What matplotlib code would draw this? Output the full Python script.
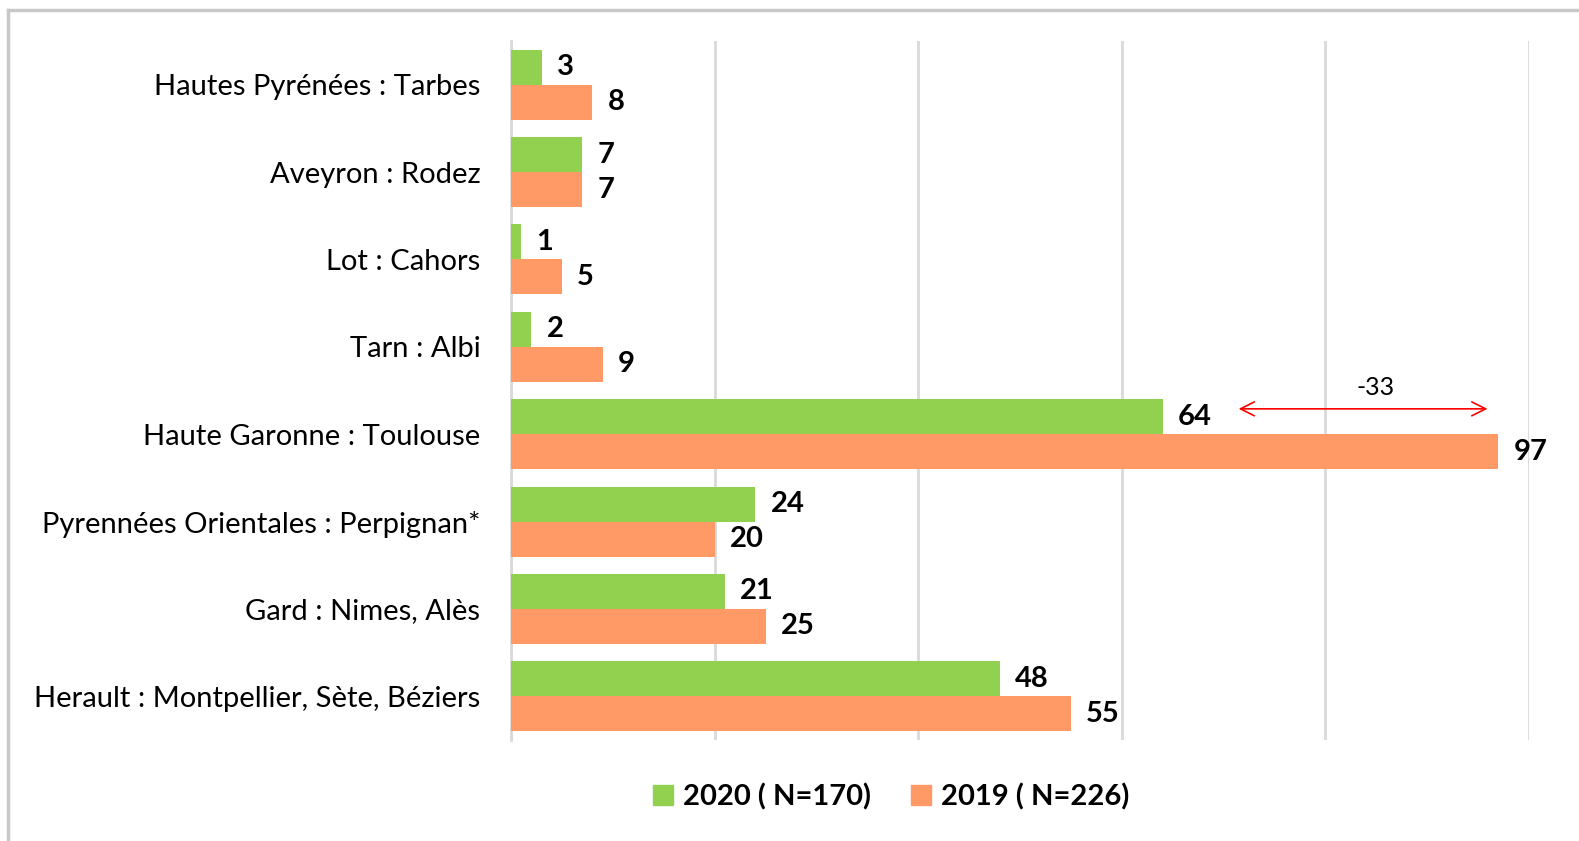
import numpy as np
import matplotlib as mpl
mpl.use("Agg")
import matplotlib.pyplot as plt
from matplotlib.lines import Line2D

mpl.rcParams.update({
    "font.family": ["Lato", "DejaVu Sans"],
    "font.size": 21,
})

#colors
color2020 = '#92D050'
color2019 = '#FF9966'
colorgrid = '#D9D9D9'

#data
categories = ['Hautes Pyrénées : Tarbes', 'Aveyron : Rodez', 'Lot : Cahors',
              'Tarn : Albi', 'Haute Garonne : Toulouse',
              'Pyrennées Orientales : Perpignan*', 'Gard : Nimes, Alès',
              'Herault : Montpellier, Sète, Béziers']
values_2020 = [3, 7, 1, 2, 64, 24, 21, 48]
values_2019 = [8, 7, 5, 9, 97, 20, 25, 55]
label_2020 = '2020 ( N=170)'
label_2019 = '2019 ( N=226)'
diff_label = '-33'

#create figure
fig = plt.figure(figsize=(15.79, 8.41), dpi=100)
ax = fig.add_axes([511/1579, 1 - 740/841, (1529-511)/1579, (740-41)/841])

y = np.arange(len(categories))
h = 0.4
ax.barh(y - h/2, values_2020, height=h, color=color2020, zorder=3)
ax.barh(y + h/2, values_2019, height=h, color=color2019, zorder=3)

for yi, v in zip(y, values_2020):
    ax.annotate(str(v), (v, yi - h/2), xytext=(11, 0), textcoords='offset points',
                va='center', ha='left', fontweight='bold', fontsize=21)
for yi, v in zip(y, values_2019):
    ax.annotate(str(v), (v, yi + h/2), xytext=(11, 0), textcoords='offset points',
                va='center', ha='left', fontweight='bold', fontsize=21)

#arrow between toulouse values
ax.annotate('', xy=(71.2, 3.71), xytext=(96.2, 3.71),
            arrowprops=dict(arrowstyle='<->', color='red', lw=1.2,
                            mutation_scale=25), zorder=4)
ax.text(84.9, 3.46, diff_label, ha='center', va='center', fontsize=18)

#axis properties
ax.set_xlim(0, 100)
ax.set_ylim(len(categories) - 0.5, -0.5)
ax.set_xticks(np.arange(0, 101, 20))
ax.set_xticklabels([])
ax.set_yticks(y)
ax.set_yticklabels(categories)
ax.tick_params(axis='both', length=0, pad=22)
ax.xaxis.grid(True, color=colorgrid, lw=2, zorder=0)
for s in ['top', 'right', 'bottom']:
    ax.spines[s].set_visible(False)
ax.spines['left'].set_color(colorgrid)
ax.spines['left'].set_linewidth(2)

#legend
handles = [Line2D([], [], marker='s', ls='', color=color2020, markersize=14),
           Line2D([], [], marker='s', ls='', color=color2019, markersize=14)]
leg = fig.legend(handles, [label_2020, label_2019], loc='center',
                 bbox_to_anchor=(891/1579, 1 - 797/841), ncol=2, frameon=False,
                 handlelength=0.7, handletextpad=0.35, columnspacing=1.35,
                 prop={'weight': 'bold', 'size': 21})

#border lines top and left
fig.add_artist(Line2D([8/1579, 1], [1 - 10/841, 1 - 10/841], color='#C8C8C8', lw=2.5))
fig.add_artist(Line2D([8/1579, 8/1579], [0, 1 - 10/841], color='#C8C8C8', lw=2.5))

fig.savefig('out.png', dpi=100)
